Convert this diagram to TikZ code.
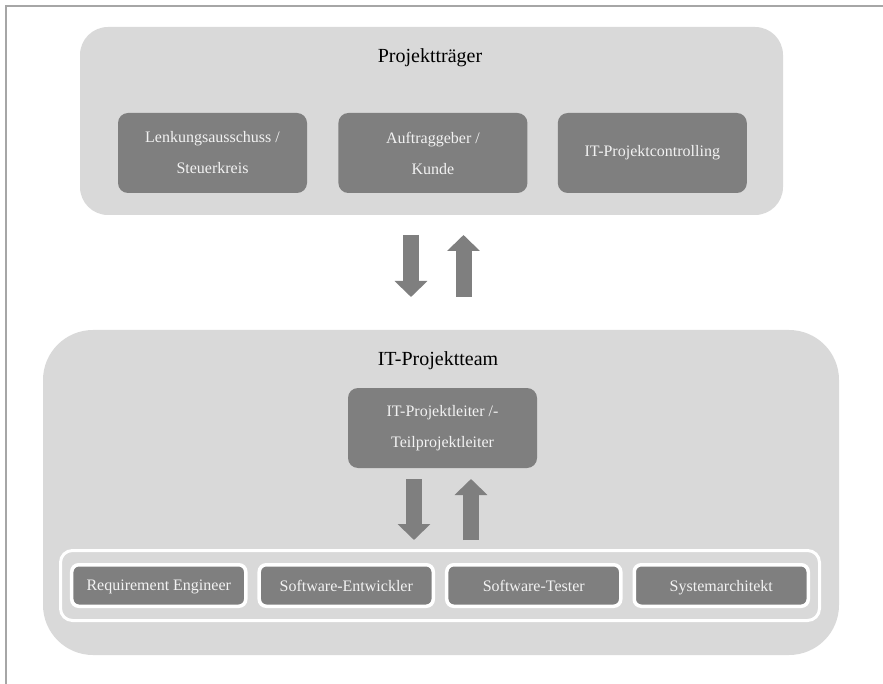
\documentclass[tikz,border=0pt]{standalone}
\usepackage{fontspec}
\setmainfont{Liberation Serif}
\usetikzlibrary{arrows.meta, matrix, positioning}
\definecolor{hellgrau}{HTML}{D9D9D9}
\definecolor{dunkelgrau}{HTML}{7F7F7F}
\definecolor{schrift}{HTML}{F2F2F2}
\definecolor{rahmen}{HTML}{A6A6A6}
\tikzset{gruppe/.style = {fill=hellgrau, inner sep=0pt},
    rolle/.style = {fill=dunkelgrau, rounded corners=10pt, text=schrift,
            minimum width=189pt, minimum height=80pt,
            align=center, inner sep=0pt,
            font=\fontsize{16}{31}\selectfont},
    titel/.style = {font=\fontsize{20}{24}\selectfont, anchor=base},
    pfeil/.style = {draw=dunkelgrau, line width=16pt,
            -{Triangle[width=32pt,length=16pt]}},
    rollentabelle/.style = {%
    matrix of nodes,
     nodes={fill=dunkelgrau, draw=white, line width=3.5pt,
            rounded corners=7pt, text=schrift, text depth=0pt,
            minimum width=174pt, minimum height=41.5pt, inner sep=0pt,
            font=\fontsize{16}{19}\selectfont,
            anchor=center},
    column sep=10pt,
    draw=white, line width=3pt, rounded corners=12pt,
    inner xsep=9.5pt, inner ysep=12.5pt}}

\begin{document}
\begin{tikzpicture}[x=1pt, y=-1pt]
\useasboundingbox[fill=white] (0,0) rectangle (883,684);
\draw[rahmen, line width=1.5pt] (6,684) -- (6,6) -- (883,6);
% Projekttraeger
\node[gruppe, rounded corners=28pt, minimum width=703pt, minimum height=188pt]
    (traeger) at (431.5,121) {};
\node[titel] (traegertitel) at (430,63) {Projektträger};
\node[rolle] (lenkung) at (212.5,153) {Lenkungsausschuss /\\Steuerkreis};
\node[rolle, right=31pt of lenkung] (auftrag) {Auftraggeber /\\Kunde};
\node[rolle, right=30pt of auftrag] (controlling) {IT-Projektcontrolling};
% Pfeile zwischen Traeger und Team
\coordinate (runterA) at (411,235);
\coordinate (runterB) at (411,297);
\coordinate (hochA) at (463.5,297);
\coordinate (hochB) at (463.5,235);
\draw[pfeil] (runterA) -- (runterB);
\draw[pfeil] (hochA) -- (hochB);
% IT-Projektteam
\node[gruppe, rounded corners=50pt, minimum width=796pt, minimum height=325pt]
    (team) at (441,492.5) {};
\node[titel] (teamtitel) at (438,366) {IT-Projektteam};
\node[rolle] (leiter) at (442.5,428) {IT-Projektleiter /-\\Teilprojektleiter};
\coordinate (innenA) at (414,479);
\coordinate (innenB) at (414,540);
\coordinate (innenC) at (471,540);
\coordinate (innenD) at (471,479);
\draw[pfeil] (innenA) -- (innenB);
\draw[pfeil] (innenC) -- (innenD);
\matrix [rollentabelle] (rollen) at (440,585.5)
{
Requirement Engineer & Software-Entwickler & Software-Tester & Systemarchitekt \\
};
\end{tikzpicture}
\end{document}
